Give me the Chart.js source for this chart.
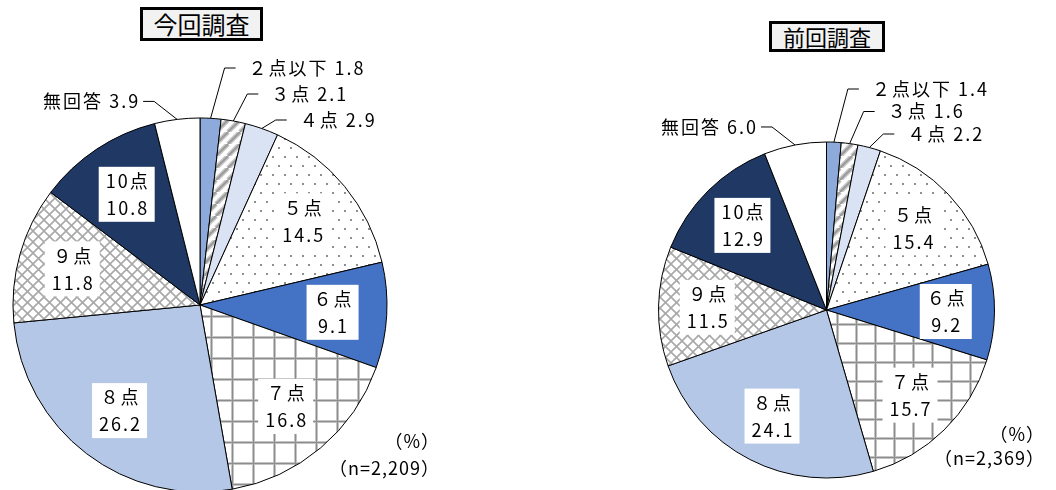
<!DOCTYPE html>
<html lang="ja">
<head>
<meta charset="utf-8">
<script src="https://cdn.jsdelivr.net/npm/chart.js@4"></script>
<style>
  body { margin: 0; width: 1056px; height: 490px; background: #fff; position: relative; overflow: hidden;
         font-family: "Noto Sans CJK JP", sans-serif; color: #000; }
  canvas { position: absolute; left: 0; top: 0; }
  .title { position: absolute; border: 3px solid #000; background: #f2f2f2; box-sizing: border-box; text-align: center; }
  .note { position: absolute; text-align: right; font-size: 18px; line-height: 1; letter-spacing: 1px; white-space: nowrap; }
</style>
</head>
<body>
<div class="title" style="left:140px;top:7px;width:123px;height:34px;font-size:24px;line-height:27px;">今回調査</div>
<div class="title" style="left:769px;top:21px;width:116px;height:31px;font-size:22px;line-height:25px;">前回調査</div>
<canvas id="chartNow" width="1056" height="490"></canvas>
<canvas id="chartPrev" width="1056" height="490"></canvas>
<div class="note" style="right:616px;top:431px;">（%）</div>
<div class="note" style="right:616px;top:458px;">（n=2,209）</div>
<div class="note" style="right:11px;top:424px;">（%）</div>
<div class="note" style="right:11px;top:448px;">（n=2,369）</div>
<script>
// データ

const categories = ['２点以下', '３点', '４点', '５点', '６点', '７点', '８点', '９点', '10点', '無回答'];
const currentValues = [1.8, 2.1, 2.9, 14.5, 9.1, 16.8, 26.2, 11.8, 10.8, 3.9];
const previousValues = [1.4, 1.6, 2.2, 15.4, 9.2, 15.7, 24.1, 11.5, 12.9, 6.0];
// 円の外に引き出し線で表示する項目
const outsideCategories = ['２点以下', '３点', '４点', '無回答'];

// パターン

function tile(w, h, draw) {
  const c = document.createElement('canvas');
  c.width = w; c.height = h;
  const g = c.getContext('2d');
  g.fillStyle = '#fff';
  g.fillRect(0, 0, w, h);
  draw(g);
  return g.createPattern(c, 'repeat');
}

function stripes() {
  return tile(12, 12, g => {
    g.strokeStyle = '#c8c8c8'; g.lineWidth = 5;
    for (const o of [-12, 0, 12]) { g.beginPath(); g.moveTo(o, 12); g.lineTo(o + 12, 0); g.stroke(); }
    g.strokeStyle = '#9a9a9a'; g.lineWidth = 2;
    for (const o of [-12, 0, 12]) { g.beginPath(); g.moveTo(o, 12); g.lineTo(o + 12, 0); g.stroke(); }
  });
}

function dots() {
  return tile(12, 18, g => {
    g.fillStyle = '#8e8e8e';
    g.fillRect(2, 3, 2, 2);
    g.fillRect(8, 12, 2, 2);
  });
}

function grid(size) {
  return tile(size, size, g => {
    g.fillStyle = '#c4c4c4';
    g.fillRect(0, 0, 3, size); g.fillRect(0, 0, size, 3);
    g.fillStyle = '#8c8c8c';
    g.fillRect(1, 0, 1, size); g.fillRect(0, 1, size, 1);
  });
}

function crosshatch() {
  return tile(11, 11, g => {
    g.strokeStyle = '#a8a8a8'; g.lineWidth = 1.6;
    g.beginPath(); g.moveTo(0, 0); g.lineTo(11, 11); g.stroke();
    g.beginPath(); g.moveTo(11, 0); g.lineTo(0, 11); g.stroke();
  });
}

function fills(gridSize) {
  return ['#8eaadb', stripes(), '#dae3f3', dots(), '#4472c4', grid(gridSize),
          '#b4c7e7', crosshatch(), '#203864', '#ffffff'];
}

// ラベル

const sliceLabels = {
  id: 'sliceLabels',
  afterDatasetsDraw(chart, args, opts) {
    const ctx = chart.ctx;
    const meta = chart.getDatasetMeta(0);
    const values = chart.data.datasets[0].data;
    const names = chart.data.labels;
    ctx.save();
    ctx.font = '18px "Noto Sans CJK JP"';
    ctx.letterSpacing = '2px';
    ctx.lineWidth = 1;
    ctx.strokeStyle = '#000';
    let row = 0;
    meta.data.forEach((arc, i) => {
      const p = arc.getProps(['x', 'y', 'startAngle', 'endAngle', 'outerRadius'], true);
      const mid = (p.startAngle + p.endAngle) / 2;
      const r = p.outerRadius;
      const valText = values[i].toFixed(1);
      if (!outsideCategories.includes(names[i])) {
        const cx = p.x + Math.cos(mid) * r * opts.insideRatio;
        const cy = p.y + Math.sin(mid) * r * opts.insideRatio;
        const w = Math.max(ctx.measureText(names[i]).width, ctx.measureText(valText).width) + 12;
        const h = 55;
        ctx.fillStyle = '#fff';
        ctx.fillRect(cx - w / 2, cy - h / 2, w, h);
        ctx.fillStyle = '#000';
        ctx.textAlign = 'center';
        ctx.textBaseline = 'middle';
        ctx.fillText(names[i], cx + 1, cy - 13);
        ctx.fillText(valText, cx + 1, cy + 14);
      } else {
        const ex = p.x + Math.cos(mid) * r;
        const ey = p.y + Math.sin(mid) * r;
        const text = names[i] + ' ' + valText;
        ctx.fillStyle = '#000';
        ctx.textBaseline = 'middle';
        ctx.beginPath();
        if (ex >= p.x) {
          const ky = p.y - r - opts.rowStart + row * opts.rowGap;
          row++;
          const kx = ex + 14;
          ctx.moveTo(ex, ey); ctx.lineTo(kx, ky); ctx.lineTo(kx + 11, ky);
          ctx.stroke();
          ctx.textAlign = 'left';
          ctx.fillText(text, kx + 24, ky);
        } else {
          const kx = ex - 23, ky = ey - 18;
          ctx.moveTo(ex, ey); ctx.lineTo(kx, ky); ctx.lineTo(kx - 11, ky);
          ctx.stroke();
          ctx.textAlign = 'right';
          ctx.fillText(text, kx - 14, ky);
        }
      }
    });
    ctx.restore();
  }
};

function makePie(id, values, padding, radius, labelOpts, gridSize) {
  return new Chart(document.getElementById(id), {
    type: 'pie',
    data: {
      labels: categories,
      datasets: [{
        data: values,
        backgroundColor: fills(gridSize),
        borderColor: '#000',
        borderWidth: 1,
        radius: radius,
        clip: false,
        hoverOffset: 0
      }]
    },
    options: {
      responsive: false,
      animation: false,
      events: [],
      layout: { padding: padding },
      plugins: {
        legend: { display: false },
        tooltip: { enabled: false },
        sliceLabels: labelOpts
      }
    },
    plugins: [sliceLabels]
  });
}

makePie('chartNow', currentValues, { left: 0, right: 656, top: 120, bottom: 0 }, 187,
        { insideRatio: 0.71, rowStart: 50, rowGap: 26 }, 21);
makePie('chartPrev', previousValues, { left: 657, right: 60, top: 140, bottom: 10 }, 168,
        { insideRatio: 0.71, rowStart: 53, rowGap: 22.5 }, 19);
</script>
</body>
</html>
